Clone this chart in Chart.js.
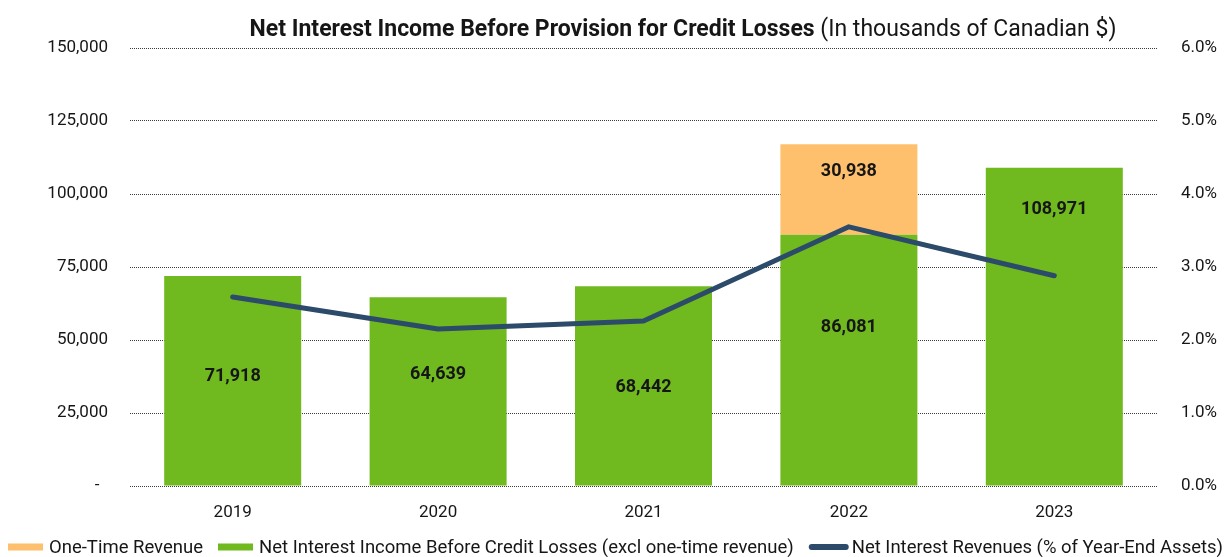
<!DOCTYPE html>
<html>
<head>
<meta charset="utf-8">
<script src="https://cdn.jsdelivr.net/npm/chart.js@4.4.1/dist/chart.umd.min.js"></script>
<style>
  html, body { margin: 0; padding: 0; background: #ffffff; }
  #wrap { width: 1226px; height: 557px; position: relative; }
</style>
</head>
<body>
<div id="wrap"><canvas id="chart" width="1226" height="557"></canvas></div>
<script>
// Fiscal years shown on the category axis
const years = ['2019', '2020', '2021', '2022', '2023'];

// Net interest income before credit losses, excluding one-time revenue (thousands CAD)
const coreIncome = [71918, 64639, 68442, 86081, 108971];

// One-time revenue (thousands CAD), only booked in 2022
const oneTimeRevenue = [null, null, null, 30938, null];

// Net interest revenues as % of year-end assets
const nimPercent = [2.59, 2.15, 2.26, 3.55, 2.88];

// Axis tick values
const incomeTicks = [0, 25000, 50000, 75000, 100000, 125000, 150000];
const percentTicks = [0, 1, 2, 3, 4, 5, 6];

const titleBold = 'Net Interest Income Before Provision for Credit Losses';
const titleNormal = ' (In thousands of Canadian $)';

const FONT = 'Roboto';
const GREEN = '#70b91f';
const ORANGE = '#fec06c';
const NAVY = '#2c4a69';
const TEXT = '#161616';

const fmt = v => v.toLocaleString('en-US');

// Title with a bold lead-in followed by a regular-weight qualifier
const titlePlugin = {
  id: 'mixedTitle',
  afterDraw(chart) {
    const ctx = chart.ctx;
    ctx.save();
    ctx.textBaseline = 'middle';
    ctx.fillStyle = TEXT;
    ctx.font = `bold 23px ${FONT}`;
    const wb = ctx.measureText(titleBold).width;
    ctx.font = `23px ${FONT}`;
    const wn = ctx.measureText(titleNormal).width;
    const cx = 683;
    const x0 = cx - (wb + wn) / 2;
    const y = 30;
    ctx.font = `bold 23px ${FONT}`;
    ctx.textAlign = 'left';
    ctx.fillText(titleBold, x0, y);
    ctx.font = `23px ${FONT}`;
    ctx.fillText(titleNormal, x0 + wb, y);
    ctx.restore();
  }
};

// Legend row along the bottom edge: swatch + label for each series
const legendRowPlugin = {
  id: 'legendRow',
  afterDraw(chart, args, opts) {
    const ctx = chart.ctx;
    ctx.save();
    ctx.font = `18.5px ${FONT}`;
    ctx.textBaseline = 'middle';
    ctx.textAlign = 'left';
    const y = opts.y;
    let x = opts.x;
    chart.data.datasets.forEach(ds => {
      const isLine = ds.type === 'line';
      const w = isLine ? 40 : 35;
      if (isLine) {
        ctx.strokeStyle = ds.borderColor;
        ctx.lineWidth = 6;
        ctx.lineCap = 'round';
        ctx.beginPath();
        ctx.moveTo(x + 3, y);
        ctx.lineTo(x + w - 3, y);
        ctx.stroke();
      } else {
        ctx.fillStyle = ds.backgroundColor;
        ctx.fillRect(x, y - 3.5, w, 7);
      }
      x += w + (isLine ? 3 : 6);
      ctx.fillStyle = TEXT;
      // keep the last entry inside the canvas edge
      const room = chart.width - x - 3;
      const tw = Math.min(ctx.measureText(ds.label).width, room);
      ctx.fillText(ds.label, x, y + 1, tw);
      x += tw + opts.gap;
    });
    ctx.restore();
  }
};

// Value labels written inside the bar segments
const barValuesPlugin = {
  id: 'barValues',
  afterDatasetsDraw(chart, args, opts) {
    const ctx = chart.ctx;
    ctx.save();
    ctx.font = `bold 18px ${FONT}`;
    ctx.fillStyle = TEXT;
    ctx.textAlign = 'center';
    ctx.textBaseline = 'middle';
    chart.data.datasets.forEach((ds, di) => {
      if (ds.type === 'line') return;
      const meta = chart.getDatasetMeta(di);
      const lift = opts.lift[ds.key];
      meta.data.forEach((bar, i) => {
        const v = ds.data[i];
        if (v == null) return;
        const top = bar.y, base = bar.base;
        const y = base - (base - top) * lift[i];
        ctx.fillText(fmt(v), bar.x, y);
      });
    });
    ctx.restore();
  }
};

new Chart(document.getElementById('chart'), {
  data: {
    labels: years,
    datasets: [
      {
        type: 'bar',
        key: 'oneTime',
        label: 'One-Time Revenue',
        data: oneTimeRevenue,
        backgroundColor: ORANGE,
        yAxisID: 'y',
        order: 2,
        categoryPercentage: 1,
        barPercentage: 0.667
      },
      {
        type: 'bar',
        key: 'core',
        label: 'Net Interest Income Before Credit Losses (excl one-time revenue)',
        data: coreIncome,
        backgroundColor: GREEN,
        yAxisID: 'y',
        order: 1,
        categoryPercentage: 1,
        barPercentage: 0.667
      },
      {
        type: 'line',
        key: 'nim',
        label: 'Net Interest Revenues (% of Year-End Assets)',
        data: nimPercent,
        borderColor: NAVY,
        backgroundColor: NAVY,
        borderWidth: 5,
        borderCapStyle: 'round',
        borderJoinStyle: 'round',
        pointRadius: 0,
        tension: 0,
        yAxisID: 'y1',
        order: 0
      }
    ]
  },
  options: {
    responsive: false,
    animation: false,
    devicePixelRatio: 1,
    layout: { padding: { top: 48, left: 0, right: 0, bottom: 31 } },
    plugins: {
      title: { display: false },
      tooltip: { enabled: false },
      legend: { display: false },
      legendRow: { x: 8, y: 547, gap: 15 },
      barValues: {
        lift: {
          core: [0.52, 0.59, 0.49, 0.63, 0.87],
          oneTime: [0, 0, 0, 0.70, 0]
        }
      }
    },
    scales: {
      x: {
        stacked: true,
        grid: { display: false },
        border: { display: false },
        afterFit(scale) { scale.height = 40; },
        ticks: { color: TEXT, font: { family: FONT, size: 17 }, padding: 9 }
      },
      y: {
        type: 'linear',
        position: 'left',
        stacked: true,
        min: 0,
        max: 150000,
        afterBuildTicks(scale) { scale.ticks = incomeTicks.map(v => ({ value: v })); },
        afterFit(scale) { scale.width = 130; },
        grid: {
          color: '#3a3a3a',
          lineWidth: 1,
          drawTicks: false
        },
        border: { display: false, dash: [1, 1] },
        ticks: {
          color: TEXT,
          padding: 22,
          font: { family: FONT, size: 17 },
          callback: v => v === 0 ? '-  ' : fmt(v)
        }
      },
      y1: {
        type: 'linear',
        position: 'right',
        min: 0,
        max: 6,
        afterBuildTicks(scale) { scale.ticks = percentTicks.map(v => ({ value: v })); },
        afterFit(scale) { scale.width = 69; },
        grid: { display: false },
        border: { display: false },
        ticks: {
          color: TEXT,
          padding: 16,
          font: { family: FONT, size: 17 },
          callback: v => v.toFixed(1) + '%'
        }
      }
    }
  },
  plugins: [titlePlugin, legendRowPlugin, barValuesPlugin]
});
</script>
</body>
</html>
